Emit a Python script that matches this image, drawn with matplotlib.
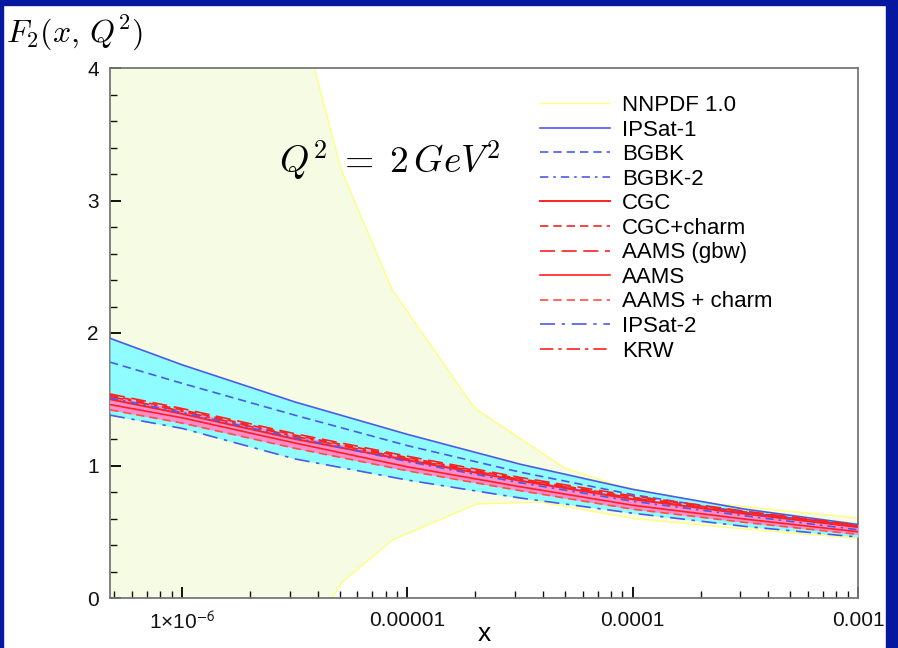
import matplotlib
matplotlib.use('Agg')
import matplotlib.pyplot as plt
import numpy as np
from matplotlib.patches import Rectangle

plt.rcParams['font.family'] = ['Liberation Sans', 'DejaVu Sans']
plt.rcParams['mathtext.fontset'] = 'cm'

lx = [-6.32, -6.0, -5.5, -5.0, -4.5, -4.0, -3.5, -3.0]

ipsat1 = [1.96, 1.76, 1.48, 1.235, 1.01, 0.82, 0.67, 0.555]
bgbk = [1.78, 1.62, 1.38, 1.15, 0.95, 0.78, 0.645, 0.545]
bgbk2 = [1.51, 1.40, 1.21, 1.03, 0.87, 0.73, 0.62, 0.515]
cgc = [1.50, 1.39, 1.20, 1.04, 0.885, 0.745, 0.635, 0.535]
cgc_charm = [1.53, 1.42, 1.23, 1.06, 0.90, 0.76, 0.65, 0.545]
aams_gbw = [1.54, 1.43, 1.24, 1.07, 0.91, 0.77, 0.655, 0.55]
aams = [1.46, 1.36, 1.17, 0.99, 0.84, 0.70, 0.595, 0.50]
aams_charm = [1.42, 1.32, 1.13, 0.96, 0.81, 0.67, 0.57, 0.48]
ipsat2 = [1.38, 1.28, 1.05, 0.89, 0.755, 0.64, 0.54, 0.46]
krw = [1.52, 1.41, 1.22, 1.05, 0.895, 0.755, 0.64, 0.54]

# NNPDF 1.0 error band edges
nn_up_lx = [-6.4, -5.5, -5.413, -5.293, -5.067, -4.702, -4.302, -4.058, -3.716, -3.0]
nn_up = [10.0, 4.56, 4.0, 3.23, 2.325, 1.434, 0.981, 0.845, 0.725, 0.604]
nn_lo_lx = [-6.4, -5.4, -5.333, -5.293, -5.067, -4.693, -4.413, -4.0, -3.5, -3.0]
nn_lo = [-2.0, -0.5, 0.0, 0.113, 0.438, 0.709, 0.725, 0.60, 0.52, 0.45]

x = 10.0 ** np.array(lx)

fig = plt.figure(figsize=(8.98, 6.48), dpi=100)
ax = fig.add_axes([110 / 898, 50 / 648, 748 / 898, 530 / 648])

blue = '#4a5ce6'
red = '#ff2020'

# NNPDF band
xb = np.concatenate([10.0 ** np.array(nn_up_lx), 10.0 ** np.array(nn_lo_lx)[::-1]])
yb = np.concatenate([nn_up, nn_lo[::-1]])
ax.fill(xb, yb, color='#f6fbe3', lw=0, zorder=1)
ax.plot(10.0 ** np.array(nn_up_lx), nn_up, color='#ffff80', lw=1.0, zorder=2, label='NNPDF 1.0')
ax.plot(10.0 ** np.array(nn_lo_lx), nn_lo, color='#ffff80', lw=1.0, zorder=2)

# model bands
ax.fill_between(x, ipsat2, ipsat1, color='#8ffcff', lw=0, zorder=3)
ax.fill_between(x, aams_charm, cgc_charm, color='#ff8ccc', lw=0, zorder=4)

ax.plot(x, ipsat1, color=blue, lw=1.2, zorder=5, label='IPSat-1')
ax.plot(x, bgbk, color=blue, lw=1.2, dashes=(5, 3), zorder=5, label='BGBK')
ax.plot(x, bgbk2, color=blue, lw=1.2, dashes=(5, 3, 1.5, 3), zorder=6, label='BGBK-2')
ax.plot(x, cgc, color=red, lw=1.4, zorder=5, label='CGC')
ax.plot(x, cgc_charm, color=red, lw=1.2, dashes=(5, 3), zorder=5, label='CGC+charm')
ax.plot(x, aams_gbw, color=red, lw=1.2, dashes=(9, 4), zorder=5, label='AAMS (gbw)')
ax.plot(x, aams, color=red, lw=1.2, zorder=5, label='AAMS')
ax.plot(x, aams_charm, color='#ff5040', lw=1.2, dashes=(5, 3), zorder=5, label='AAMS + charm')
ax.plot(x, ipsat2, color=blue, lw=1.2, dashes=(9, 4, 2, 4), zorder=5, label='IPSat-2')
ax.plot(x, krw, color=red, lw=1.2, dashes=(8, 3, 2, 3), zorder=5, label='KRW')

ax.set_xscale('log')
ax.set_xlim(10 ** -6.32, 1e-3)
ax.set_ylim(0, 4)

ax.set_xticks([1e-6, 1e-5, 1e-4, 1e-3])
ax.set_xticklabels(['1×10$^{-6}$', '0.00001', '0.0001', '0.001'])
for t in ax.get_xticklabels():
    t.set_math_fontfamily('stixsans')
ax.xaxis.set_minor_locator(matplotlib.ticker.LogLocator(base=10, subs=np.arange(2, 10)))
ax.xaxis.set_minor_formatter(matplotlib.ticker.NullFormatter())
ax.set_yticks([0, 1, 2, 3, 4])
ax.yaxis.set_minor_locator(matplotlib.ticker.MultipleLocator(0.2))

ax.tick_params(which='both', direction='in', labelsize=15, colors='#111111', top=False, right=False)
ax.tick_params(which='major', length=8, width=1.4)
ax.tick_params(which='minor', length=5, width=1.0)
ax.tick_params(axis='x', pad=9)
ax.tick_params(axis='y', pad=8)
for s in ax.spines.values():
    s.set_color('#777777')
    s.set_linewidth(1.3)

ax.set_xlabel('x', fontsize=19)
ax.xaxis.set_label_coords(0.5, -0.045)
fig.text(6 / 898, 1 - 33 / 648, r'$F_2(x,\,Q^2)$', fontsize=23, va='center', ha='left')
ax.text(279 / 898, 1 - 160 / 648, r'$Q^2\;=\;2\,GeV^2$', fontsize=27, va='center', ha='left',
        transform=fig.transFigure, zorder=10)

ax.legend(loc='upper left', bbox_to_anchor=(540 / 898, 1 - 95 / 648), bbox_transform=fig.transFigure,
          frameon=False, fontsize=16, handlelength=3.15, handletextpad=0.55, labelspacing=0.16,
          borderpad=0, borderaxespad=0)

# dark blue slide frame
frame = '#0718a0'
fig.patches.append(Rectangle((0, 0), 3 / 898, 1, transform=fig.transFigure, color=frame, zorder=20))
fig.patches.append(Rectangle((0, 1 - 5 / 648), 1, 5 / 648, transform=fig.transFigure, color=frame, zorder=20))
fig.patches.append(Rectangle((1 - 12 / 898, 0), 12 / 898, 1, transform=fig.transFigure, color=frame, zorder=20))

fig.savefig('out.png', dpi=100)
